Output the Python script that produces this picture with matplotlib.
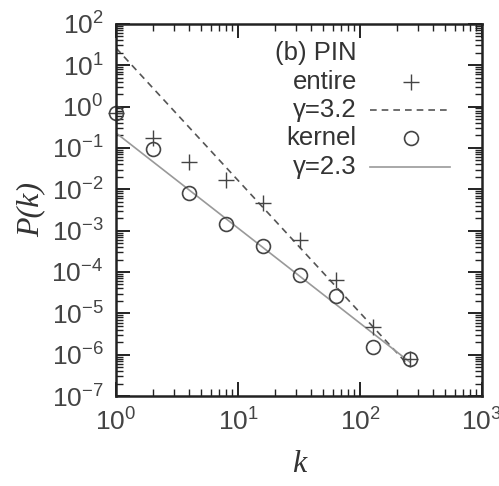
import numpy as np
import matplotlib
matplotlib.use("Agg")
import matplotlib.pyplot as plt
from matplotlib.ticker import LogLocator, NullFormatter

plt.rcParams['font.family'] = ['Liberation Sans', 'DejaVu Sans']
plt.rcParams['mathtext.fontset'] = 'custom'
plt.rcParams['mathtext.rm'] = 'Liberation Sans'
plt.rcParams['mathtext.default'] = 'regular'

# Degree distribution of the protein interaction network
k_entire = [1, 2, 4, 8, 16, 32, 64, 128, 256]
p_entire = [0.7, 0.17, 0.046, 0.017, 0.0047, 5.9e-4, 6.5e-5, 4.7e-6, 8e-7]

k_kernel = [1, 2, 4, 8, 16, 32, 64, 128, 256]
p_kernel = [0.7, 0.095, 0.0081, 0.00144, 4.3e-4, 8.5e-5, 2.7e-5, 1.5e-6, 8e-7]

# Power-law fits P(k) = A k^-gamma
gamma_entire, amp_entire = 3.2, 26.0
gamma_kernel, amp_kernel = 2.3, 0.23
k_fit = [1, 256]

fig = plt.figure(figsize=(4.99, 4.86), dpi=100)
ax = fig.add_axes([0.2325, 0.185, 0.7335, 0.766])
ax.set_xscale('log')
ax.set_yscale('log')
ax.set_xlim(1, 1e3)
ax.set_ylim(1e-7, 1e2)

kf = np.array(k_fit, dtype=float)
ax.plot(kf, amp_entire * kf ** (-gamma_entire), color='#555555', lw=1.2,
        ls=(0, (4, 3)))
ax.plot(kf, amp_kernel * kf ** (-gamma_kernel), color='#999999', lw=1.2)
ax.plot(k_entire, p_entire, ls='none', marker='+', ms=11, mew=1.0,
        color='#444444', clip_on=False)
ax.plot(k_kernel, p_kernel, ls='none', marker='o', ms=10, mew=1.2,
        mfc='none', mec='#444444', clip_on=False)

# Key in the upper right corner: labels right-aligned, samples to their right
tx = 0.658
rows = [0.922, 0.844, 0.769, 0.694, 0.616]
fs = 18.5
tc = '#333333'
ax.text(tx, rows[0], '(b) PIN', transform=ax.transAxes, ha='right',
        va='center', fontsize=fs, color=tc)
ax.text(tx, rows[1], 'entire', transform=ax.transAxes, ha='right',
        va='center', fontsize=fs, color=tc)
ax.plot([0.806], [rows[1]], transform=ax.transAxes, marker='+', ms=11,
        mew=1.0, color='#444444')
ax.text(tx, rows[2], 'γ=3.2', transform=ax.transAxes, ha='right',
        va='center', fontsize=fs, color=tc)
ax.plot([0.694, 0.913], [rows[2]] * 2, transform=ax.transAxes,
        color='#555555', lw=1.2, ls=(0, (4, 3)))
ax.text(tx, rows[3], 'kernel', transform=ax.transAxes, ha='right',
        va='center', fontsize=fs, color=tc)
ax.plot([0.806], [rows[3]], transform=ax.transAxes, marker='o', ms=10,
        mew=1.2, mfc='none', mec='#444444')
ax.text(tx, rows[4], 'γ=2.3', transform=ax.transAxes, ha='right',
        va='center', fontsize=fs, color=tc)
ax.plot([0.694, 0.913], [rows[4]] * 2, transform=ax.transAxes,
        color='#999999', lw=1.2)

ax.xaxis.set_major_locator(LogLocator(base=10, numticks=10))
ax.yaxis.set_major_locator(LogLocator(base=10, numticks=20))
ax.xaxis.set_minor_locator(LogLocator(base=10, subs=np.arange(2, 10), numticks=20))
ax.yaxis.set_minor_locator(LogLocator(base=10, subs=np.arange(2, 10), numticks=20))
ax.yaxis.set_minor_formatter(NullFormatter())
ax.xaxis.set_minor_formatter(NullFormatter())

ax.tick_params(which='both', direction='in', top=True, right=True,
               color='#222222')
ax.tick_params(which='major', length=10, width=1.4, labelsize=19,
               labelcolor='#444444', pad=9)
ax.tick_params(which='minor', length=5, width=1.0)
for s in ax.spines.values():
    s.set_linewidth(1.8)
    s.set_color('#222222')

ax.set_xlabel('k', fontsize=23, family='Liberation Serif', style='italic',
              color='#333333', labelpad=10)
ax.set_ylabel('P(k)', fontsize=23, family='Liberation Serif', style='italic',
              color='#333333', labelpad=4)

fig.savefig('out.png', dpi=100)
